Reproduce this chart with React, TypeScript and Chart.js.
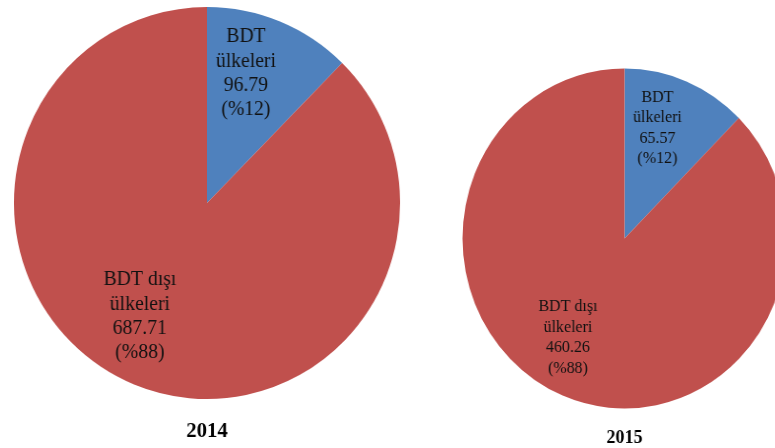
import React, { useEffect, useRef } from "react";
import { Chart, registerables } from "chart.js";

Chart.register(...registerables);

const categories = ["BDT ülkeleri", "BDT dışı ülkeleri"];
const categoryLines = [["BDT", "ülkeleri"], ["BDT dışı", "ülkeleri"]];
const years = ["2014", "2015"];
const values2014 = [96.79, 687.71];
const values2015 = [65.57, 460.26];
const percents2014 = ["%12", "%88"];
const percents2015 = ["%12", "%88"];
const colors = ["#4F81BD", "#C0504D"];

const SERIF = '"Liberation Serif", "Times New Roman", "DejaVu Serif", serif';

type LabelCfg = {
  lines: string[][];
  pos: { ang: number; rf: number }[];
  font: number;
  lh: number;
  title: string;
  titleFont: number;
  titleY: number;
};

const labelPlugin = {
  id: "sliceLabels",
  afterDraw(chart: any) {
    const cfg: LabelCfg = chart.options.plugins.sliceLabels;
    if (!cfg) return;
    const ctx = chart.ctx;
    const meta = chart.getDatasetMeta(0);
    ctx.save();
    ctx.textAlign = "center";
    ctx.textBaseline = "middle";
    ctx.fillStyle = "#111";
    meta.data.forEach((arc: any, i: number) => {
      const p = cfg.pos[i];
      const a = ((p.ang - 90) * Math.PI) / 180;
      const r = arc.outerRadius * p.rf;
      const cx = arc.x + Math.cos(a) * r;
      const cy = arc.y + Math.sin(a) * r;
      const lines = cfg.lines[i];
      ctx.font = `${cfg.font}px ${SERIF}`;
      const n = lines.length;
      lines.forEach((ln, k) => {
        ctx.fillText(ln, cx, cy + (k - (n - 1) / 2) * cfg.lh);
      });
    });
    const arc0 = meta.data[0];
    ctx.font = `bold ${cfg.titleFont}px ${SERIF}`;
    ctx.fillStyle = "#000";
    ctx.fillText(cfg.title, arc0.x, cfg.titleY);
    ctx.restore();
  },
};

function PieCanvas(props: {
  width: number;
  height: number;
  left: number;
  scaleX: number;
  originX: number;
  values: number[];
  percents: string[];
  padding: { left: number; right: number; top: number; bottom: number };
  label: Omit<LabelCfg, "lines">;
}) {
  const ref = useRef<HTMLCanvasElement | null>(null);
  useEffect(() => {
    if (!ref.current) return;
    const lines = categoryLines.map((c, i) => [
      ...c,
      props.values[i].toFixed(2),
      `(${props.percents[i]})`,
    ]);
    const chart = new Chart(ref.current, {
      type: "pie",
      data: {
        labels: categories,
        datasets: [
          {
            data: props.values,
            backgroundColor: colors,
            borderWidth: 0,
          },
        ],
      },
      options: {
        responsive: false,
        animation: false,
        layout: { padding: props.padding },
        plugins: {
          legend: { display: false },
          tooltip: { enabled: false },
          sliceLabels: { ...props.label, lines },
        } as any,
      },
      plugins: [labelPlugin],
    });
    let alive = true;
    const fonts: any = (document as any).fonts;
    if (fonts && fonts.load) {
      Promise.all([
        fonts.load(`20px "Liberation Serif"`),
        fonts.load(`bold 20px "Liberation Serif"`),
      ])
        .then(() => {
          if (alive) chart.draw();
        })
        .catch(() => {});
    }
    return () => {
      alive = false;
      chart.destroy();
    };
  }, []);
  return (
    <canvas
      ref={ref}
      width={props.width}
      height={props.height}
      style={{
        position: "absolute",
        left: props.left,
        top: 0,
        transform: `scaleX(${props.scaleX})`,
        transformOrigin: `${props.originX}px 0px`,
      }}
    />
  );
}

export default function App() {
  return (
    <div
      style={{
        position: "fixed",
        left: 0,
        top: 0,
        width: 775,
        height: 448,
        overflow: "hidden",
        background: "#fff",
      }}
    >
      <PieCanvas
        width={420}
        height={448}
        left={0}
        scaleX={0.985}
        originX={207}
        values={values2014}
        percents={percents2014}
        padding={{ left: 11, right: 17, top: 7, bottom: 49 }}
        label={{
          pos: [
            { ang: 17, rf: 0.69 },
            { ang: 211, rf: 0.675 },
          ],
          font: 20,
          lh: 24.3,
          title: years[0],
          titleFont: 21,
          titleY: 432,
        }}
      />
      <PieCanvas
        width={400}
        height={448}
        left={420}
        scaleX={0.953}
        originX={204.5}
        values={values2015}
        percents={percents2015}
        padding={{ left: 34.5, right: 25.5, top: 68.5, bottom: 39.5 }}
        label={{
          pos: [
            { ang: 17.4, rf: 0.68 },
            { ang: 210.9, rf: 0.68 },
          ],
          font: 16.8,
          lh: 20.6,
          title: years[1],
          titleFont: 19,
          titleY: 438,
        }}
      />
    </div>
  );
}
